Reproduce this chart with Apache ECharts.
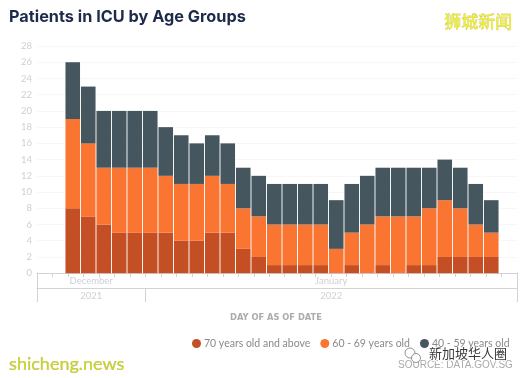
<!DOCTYPE html>
<html><head><meta charset="utf-8">
<style>html,body{margin:0;padding:0;background:#fff}#c{width:522px;height:378px}</style>
<script src="https://cdn.jsdelivr.net/npm/echarts@6/dist/echarts.min.js"></script>
</head><body><div id="c"></div>
<script>
const categories = ["27 Dec","28 Dec","29 Dec","30 Dec","31 Dec","1 Jan","2 Jan","3 Jan","4 Jan","5 Jan","6 Jan","7 Jan","8 Jan","9 Jan","10 Jan","11 Jan","12 Jan","13 Jan","14 Jan","15 Jan","16 Jan","17 Jan","18 Jan","19 Jan","20 Jan","21 Jan","22 Jan","23 Jan"];
const age70 = [8,7,6,5,5,5,5,4,4,5,5,3,2,1,1,1,1,0,1,0,1,0,1,1,2,2,2,2];
const age60 = [11,9,7,8,8,8,7,7,7,7,6,5,5,5,5,5,5,3,4,6,6,7,6,7,7,6,4,3];
const age40 = [7,7,7,7,7,7,6,6,5,5,5,5,5,5,5,5,5,6,6,6,6,6,6,5,5,5,5,4];
const seriesNames = ["70 years old and above","60 - 69 years old","40 - 59 years old"];
const colors = ["#c44f24","#fb7532","#45565e"];
const monthLabels = {3.5:"December",19:"January"};
const yearLabels = {3.5:"2021",19:"2022"};
const labelPositions = [3.5,19];
const yearBoundaries = [0,7,31];
const dayCount = 31;
const dayTicks = Array.from({length:dayCount+1},(_,i)=>i);
const axisGrey = "#d2d2da", labelGrey = "#d0d0d4";
const hiddenY = g => ({type:"value",gridIndex:g,show:false,min:0,max:1});
const frameY = (g,pos) => ({type:"value",gridIndex:g,position:pos,min:0,max:1,
  axisLine:{show:true,onZero:false,lineStyle:{color:axisGrey}},axisTick:{show:false},axisLabel:{show:false},splitLine:{show:false}});
const rowX = (g,ticks,tickLen,labels) => ({type:"value",gridIndex:g,position:"top",min:0,max:dayCount,
  axisLine:{show:true,onZero:false,lineStyle:{color:axisGrey}},
  axisTick:{show:true,inside:true,length:tickLen,customValues:ticks,lineStyle:{color:axisGrey}},
  axisLabel:{show:true,inside:true,margin:3,customValues:labelPositions,formatter:v=>labels[v]||"",color:labelGrey,fontSize:9.5,fontFamily:"Lato",hideOverlap:false,showMinLabel:true,showMaxLabel:true},
  splitLine:{show:false}});
const chart = echarts.init(document.getElementById("c"),null,{renderer:"canvas"});
chart.setOption({
  animation:false,backgroundColor:"#fff",
  title:{text:"Patients in ICU by Age Groups",left:9,top:9,padding:0,textStyle:{fontFamily:"Inter",fontWeight:700,fontSize:16.3,color:"#1d2a4a"}},
  legend:{left:192,top:338,selectedMode:false,icon:"circle",itemWidth:9,itemHeight:9,itemGap:10,padding:0,
    textStyle:{fontFamily:"Lato",fontSize:10.5,color:"#8a8a8e",padding:[0,0,0,-2]},data:seriesNames},
  grid:[
    {left:65,top:46,width:434,height:227.2},
    {left:37,top:46,width:480,height:227.2},
    {left:37,top:273,width:480,height:15},
    {left:37,top:288,width:480,height:14}
  ],
  xAxis:[
    {type:"category",gridIndex:0,data:categories,show:false},
    {type:"value",gridIndex:1,show:false,min:0,max:1},
    rowX(2,dayTicks,4,monthLabels),
    rowX(3,yearBoundaries,14,yearLabels)
  ],
  yAxis:[
    {type:"value",gridIndex:0,show:false,min:0,max:28},
    {type:"value",gridIndex:1,min:0,max:28,interval:2,axisLine:{show:false},axisTick:{show:false},
     axisLabel:{color:labelGrey,fontSize:9.5,fontFamily:"Lato",margin:5},splitLine:{lineStyle:{color:"#f7f7fa"}}},
    frameY(2,"left"),frameY(2,"right"),hiddenY(3)
  ],
  series:[age70,age60,age40].map((d,i)=>({name:seriesNames[i],type:"bar",stack:"icu",data:d,
    xAxisIndex:0,yAxisIndex:0,barWidth:"94%",itemStyle:{color:colors[i]}})),
  graphic:[
    {type:"text",left:230,top:314,style:{text:"DAY OF AS OF DATE",fontFamily:"DejaVu Sans",fontWeight:700,fontSize:8.3,fill:"#ababaf"}},
    {type:"text",left:398,top:360,style:{text:"SOURCE: DATA.GOV.SG",fontFamily:"Liberation Sans",fontSize:10,fill:"#a9a9ae"}},
    {type:"text",left:444,top:13,style:{text:"狮城新闻",fontFamily:"Noto Sans CJK SC",fontSize:17,fill:"#f2f02a",stroke:"#a8a860",lineWidth:0.4}},
    {type:"text",left:9,top:355,style:{text:"shicheng.news",fontFamily:"Lato",fontSize:18,fill:"#c9d12a",stroke:"#8c8c50",lineWidth:0.2}},
    {type:"text",left:428,top:346,style:{text:"新加坡华人圈",fontFamily:"Noto Sans CJK SC",fontSize:13,fill:"#3a3a3a",stroke:"#ffffff",lineWidth:2,strokeFirst:true}},
    {type:"circle",shape:{cx:410,cy:353,r:5},style:{fill:"#fff",stroke:"#777",lineWidth:0.8}},
    {type:"circle",shape:{cx:416,cy:358,r:4.5},style:{fill:"#fff",stroke:"#777",lineWidth:0.8}}
  ]
});
</script></body></html>
